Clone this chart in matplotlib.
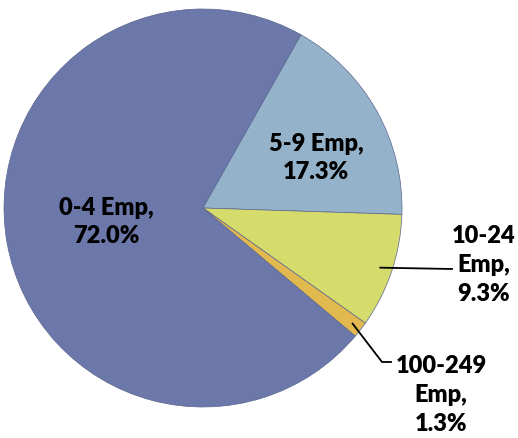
import matplotlib
matplotlib.use("Agg")
import matplotlib.pyplot as plt
import numpy as np

plt.rcParams['font.family'] = ['Lato', 'DejaVu Sans']

# data
categories = ["0-4 Emp", "5-9 Emp", "10-24 Emp", "100-249 Emp"]
shares = [72.0, 17.3, 9.3, 1.3]
labels = ["0-4 Emp,\n72.0%", "5-9 Emp,\n17.3%", "10-24\nEmp,\n9.3%", "100-249\nEmp,\n1.3%"]
colors = ["#6b78a9", "#94b3ca", "#d5dc6c", "#e2b94e"]

W, H = 518, 439
fig = plt.figure(figsize=(W / 100, H / 100), dpi=100)
ax = fig.add_axes([0, 0, 1, 1])

cx, cy, r = 203, H - 209, 199
start = 60.5 + shares[0] / sum(shares) * 360
wedges, _ = ax.pie(shares, colors=colors, startangle=start, counterclock=False,
                   center=(cx, cy), radius=r, frame=True,
                   wedgeprops=dict(edgecolor='#5a6590', linewidth=0.5))
ax.set_xlim(0, W)
ax.set_ylim(0, H)
ax.set_aspect('equal')
ax.axis('off')

# label positions (pixel coords from top)
pos = [(106, 222), (316, 158), (484, 265), (441, 395)]
for (x, y), lab in zip(pos, labels):
    ax.text(x, H - y, lab, ha='center', va='center', fontsize=17,
            fontweight='heavy', linespacing=1.38)

# leader lines for the small slices
def edge_point(w, frac):
    a = np.deg2rad((w.theta1 + w.theta2) / 2)
    return cx + frac * r * np.cos(a), cy + frac * r * np.sin(a)

x0, y0 = edge_point(wedges[2], 0.94)
ax.plot([x0, 452], [y0, H - 270], color='black', lw=1.3)
x0, y0 = edge_point(wedges[3], 0.95)
ax.plot([x0, 382, 391], [y0, H - 363, H - 363], color='black', lw=1.3)

fig.savefig("out.png", dpi=100)
